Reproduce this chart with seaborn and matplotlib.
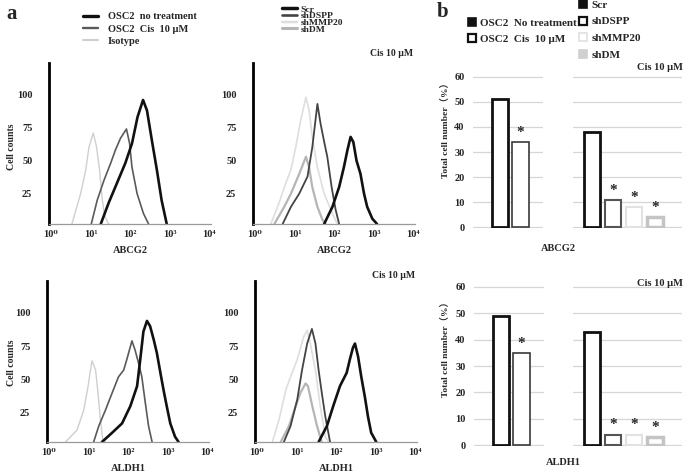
import numpy as np
import matplotlib
matplotlib.use('Agg')
import matplotlib.pyplot as plt
from matplotlib.lines import Line2D
import pandas as pd
import seaborn as sns

# ---- panel a: flow histograms (x = log10 fluorescence, y = cell counts) ----
abcg2_osc2_log = [1.26, 1.46, 1.67, 1.88, 2.05, 2.19, 2.33, 2.43, 2.55, 2.68, 2.80, 2.93]
abcg2_osc2_cnt = [2, 18, 33, 48, 63, 83, 96, 88, 66, 43, 20, 2]
abcg2_cis_log = [1.02, 1.17, 1.34, 1.51, 1.63, 1.76, 1.91, 1.99, 2.05, 2.18, 2.34, 2.47]
abcg2_cis_cnt = [2, 20, 35, 48, 58, 67, 74, 63, 45, 25, 10, 2]
abcg2_iso_log = [0.53, 0.75, 0.88, 0.96, 1.07, 1.15, 1.23, 1.30, 1.36, 1.46]
abcg2_iso_cnt = [2, 25, 43, 60, 71, 61, 43, 20, 8, 2]

abcg2_scr_log = [1.75, 1.96, 2.13, 2.25, 2.34, 2.42, 2.49, 2.57, 2.67, 2.76, 2.84, 2.97, 3.09]
abcg2_scr_cnt = [2, 15, 30, 45, 58, 68, 64, 50, 40, 25, 15, 6, 2]
abcg2_dspp_log = [0.70, 0.91, 1.12, 1.33, 1.45, 1.58, 1.66, 1.76, 1.83, 1.94, 2.04, 2.13]
abcg2_dspp_cnt = [2, 15, 25, 38, 60, 93, 78, 63, 53, 30, 13, 2]
abcg2_mmp_log = [0.40, 0.61, 0.78, 0.91, 1.03, 1.16, 1.29, 1.37, 1.45, 1.58, 1.75, 1.92, 2.08]
abcg2_mmp_cnt = [2, 18, 33, 43, 60, 81, 98, 88, 68, 45, 25, 13, 2]
abcg2_dm_log = [0.49, 0.74, 0.91, 1.12, 1.29, 1.37, 1.45, 1.58, 1.71, 1.79]
abcg2_dm_cnt = [2, 15, 25, 40, 53, 45, 30, 15, 5, 2]

aldh1_osc2_log = [1.34, 1.60, 1.85, 2.06, 2.23, 2.31, 2.39, 2.48, 2.56, 2.65, 2.73, 2.82, 2.90, 2.98, 3.07, 3.19, 3.28]
aldh1_osc2_cnt = [3, 10, 17, 30, 45, 65, 86, 94, 90, 80, 70, 55, 42, 30, 17, 7, 3]
aldh1_cis_log = [1.13, 1.26, 1.43, 1.60, 1.76, 1.89, 1.97, 2.10, 2.18, 2.27, 2.35, 2.44, 2.52, 2.61]
aldh1_cis_cnt = [3, 15, 27, 40, 52, 57, 65, 79, 72, 62, 52, 32, 15, 3]
aldh1_iso_log = [0.42, 0.71, 0.88, 0.99, 1.05, 1.09, 1.18, 1.24, 1.30, 1.36, 1.43]
aldh1_iso_cnt = [3, 12, 27, 45, 57, 64, 57, 40, 20, 5, 3]

aldh1_scr_log = [1.56, 1.77, 1.93, 2.10, 2.27, 2.35, 2.43, 2.48, 2.56, 2.64, 2.73, 2.81, 2.89, 3.02]
aldh1_scr_cnt = [3, 15, 30, 45, 55, 65, 74, 77, 67, 52, 37, 22, 10, 3]
aldh1_dspp_log = [0.68, 0.85, 1.02, 1.14, 1.27, 1.39, 1.48, 1.56, 1.64, 1.73, 1.85]
aldh1_dspp_cnt = [3, 15, 35, 57, 77, 88, 77, 57, 40, 22, 3]
aldh1_mmp_log = [0.39, 0.56, 0.73, 0.85, 1.02, 1.18, 1.27, 1.35, 1.48, 1.60, 1.73, 1.81]
aldh1_mmp_cnt = [3, 20, 42, 52, 65, 82, 87, 77, 57, 30, 7, 3]
aldh1_dm_log = [0.60, 0.81, 0.98, 1.10, 1.23, 1.29, 1.40, 1.52, 1.64]
aldh1_dm_cnt = [3, 15, 30, 40, 47, 45, 30, 15, 3]

hist_xticks = [1, 10, 100, 1000, 10000]
hist_xlabels = ['10⁰', '10¹', '10²', '10³', '10⁴']
hist_yticks = [25, 50, 75, 100]

# ---- panel b: bar charts (%) ----
osc2_groups = ['OSC2  No treatment', 'OSC2  Cis  10 μM']
sh_groups = ['Scr', 'shDSPP', 'shMMP20', 'shDM']
abcg2_osc2_pct = [51, 34]
abcg2_sh_pct = [38, 11, 8, 4]
aldh1_osc2_pct = [49, 35]
aldh1_sh_pct = [43, 4, 4, 3]
bar_yticks = [0, 10, 20, 30, 40, 50, 60]

sns.set_style('white')
plt.rcParams['font.family'] = ['Liberation Serif', 'DejaVu Serif']
plt.rcParams['font.weight'] = 'bold'

fig = plt.figure(figsize=(6.85, 4.73), dpi=100)
W, H = 685, 473


def box(x0, y_top, x1, y_bot):
    return [x0 / W, 1 - y_bot / H, (x1 - x0) / W, (y_bot - y_top) / H]


a_cols = {'osc2': ('#111111', 1.9), 'cis': ('#5a5a5a', 1.2), 'iso': ('#cfcfcf', 1.0)}
s_cols = {'scr': ('#111111', 1.9), 'dspp': ('#444444', 1.3), 'mmp': ('#dedede', 1.2), 'dm': ('#b5b5b5', 1.6)}


def hist_panel(rect, curves, styles, xlabel, ymin):
    ax = fig.add_axes(rect)
    for key, (lx, cnt) in curves.items():
        c, lw = styles[key]
        sns.lineplot(x=10 ** np.array(lx), y=cnt, ax=ax, color=c, linewidth=lw)
    ax.set_xscale('log')
    ax.set_xlim(10 ** -0.05, 10 ** 4.05)
    ax.set_ylim(ymin, 124)
    ax.set_xticks(hist_xticks)
    ax.set_xticklabels(hist_xlabels)
    ax.minorticks_off()
    ax.set_yticks(hist_yticks)
    ax.tick_params(axis='y', length=0, pad=12, labelsize=7.5)
    ax.tick_params(axis='x', length=3, width=0.8, color='#888888', pad=3, labelsize=7.5, direction='inout')
    for s in ['top', 'right']:
        ax.spines[s].set_visible(False)
    ax.spines['left'].set_linewidth(2)
    ax.spines['left'].set_color('black')
    ax.spines['bottom'].set_linewidth(0.9)
    ax.spines['bottom'].set_color('#999999')
    ax.set_xlabel(xlabel, fontsize=7.5, fontweight='bold', labelpad=5)
    ax.set_ylabel('')
    return ax


hist_panel(box(49, 63, 211, 224),
           {'iso': (abcg2_iso_log, abcg2_iso_cnt), 'cis': (abcg2_cis_log, abcg2_cis_cnt),
            'osc2': (abcg2_osc2_log, abcg2_osc2_cnt)}, a_cols, 'ABCG2', 2)
hist_panel(box(253, 63, 415, 224),
           {'mmp': (abcg2_mmp_log, abcg2_mmp_cnt), 'dm': (abcg2_dm_log, abcg2_dm_cnt),
            'dspp': (abcg2_dspp_log, abcg2_dspp_cnt), 'scr': (abcg2_scr_log, abcg2_scr_cnt)},
           s_cols, 'ABCG2', 2)
hist_panel(box(47, 281, 209, 442),
           {'iso': (aldh1_iso_log, aldh1_iso_cnt), 'cis': (aldh1_cis_log, aldh1_cis_cnt),
            'osc2': (aldh1_osc2_log, aldh1_osc2_cnt)}, a_cols, 'ALDH1', 3)
hist_panel(box(255, 281, 417, 442),
           {'mmp': (aldh1_mmp_log, aldh1_mmp_cnt), 'dm': (aldh1_dm_log, aldh1_dm_cnt),
            'dspp': (aldh1_dspp_log, aldh1_dspp_cnt), 'scr': (aldh1_scr_log, aldh1_scr_cnt)},
           s_cols, 'ALDH1', 3)

fig.text(12 / W, 1 - 147 / H, 'Cell counts', rotation=90, ha='center', va='center', fontsize=7, fontweight='bold')
fig.text(12 / W, 1 - 363 / H, 'Cell counts', rotation=90, ha='center', va='center', fontsize=7, fontweight='bold')
fig.text(413 / W, 1 - 53 / H, 'Cis 10 μM', ha='right', va='center', fontsize=7, fontweight='bold')
fig.text(415 / W, 1 - 275 / H, 'Cis 10 μM', ha='right', va='center', fontsize=7, fontweight='bold')
fig.text(12 / W, 1 - 14 / H, 'a', ha='center', va='center', fontsize=15, fontweight='bold')
fig.text(443 / W, 1 - 12 / H, 'b', ha='center', va='center', fontsize=15, fontweight='bold')

# legends for panel a
h_a = [Line2D([], [], color=a_cols[k][0], lw=a_cols[k][1] + 0.5) for k in ['osc2', 'cis', 'iso']]
fig.legend(h_a, ['OSC2  no treatment', 'OSC2  Cis  10 μM', 'Isotype'], loc='upper left',
           bbox_to_anchor=(83 / W, 1 - 12 / H), frameon=False, borderpad=0,
           borderaxespad=0, handlelength=1.4, handletextpad=1.0, labelspacing=0.3,
           prop={'weight': 'bold', 'size': 7.5})
h_s = [Line2D([], [], color=s_cols[k][0], lw=s_cols[k][1] + 0.6) for k in ['scr', 'dspp', 'mmp', 'dm']]
fig.legend(h_s, sh_groups, loc='upper left', bbox_to_anchor=(282 / W, 1 - 5 / H), frameon=False,
           borderpad=0, borderaxespad=0, handlelength=1.6, handletextpad=0.4, labelspacing=-0.2,
           prop={'weight': 'bold', 'size': 6.8})

# ---- bar panels ----
osc2_edges = [('#111111', 2.0), ('#3a3a3a', 1.2)]
sh_edges = [('#111111', 2.0), ('#555555', 1.5), ('#e2e2e2', 1.5), ('#c4c4c4', 2.5)]


def bar_panel(rect, groups, vals, edges, xlim, ticklabels, stars):
    ax = fig.add_axes(rect)
    df = pd.DataFrame({'group': groups, 'pct': vals})
    sns.barplot(data=df, x='group', y='pct', color='white', width=0.8, ax=ax, zorder=3)
    for p, (c, lw) in zip(ax.patches, edges):
        p.set_edgecolor(c)
        p.set_linewidth(lw)
        p.set_facecolor('white')
    ax.set_xlim(*xlim)
    ax.set_ylim(-0.3, 60.3)
    ax.set_yticks(bar_yticks)
    ax.yaxis.grid(True, color='#d6d6d6', linewidth=0.9)
    ax.set_axisbelow(True)
    ax.set_xticks([])
    ax.set_xlabel('')
    ax.set_ylabel('')
    for s in ax.spines.values():
        s.set_visible(False)
    if ticklabels:
        ax.tick_params(axis='y', length=0, pad=6, labelsize=7.5)
    else:
        ax.set_yticklabels([])
        ax.tick_params(axis='y', length=0)
    for i, v in enumerate(vals):
        if stars[i]:
            ax.text(i, v + 1.2, '*', ha='center', va='bottom', fontsize=11, fontweight='bold')
    return ax


bar_panel(box(473, 76, 543, 228), osc2_groups, abcg2_osc2_pct, osc2_edges, (-1.32, 2.1), True, [0, 1])
bar_panel(box(573, 76, 682, 228), sh_groups, abcg2_sh_pct, sh_edges, (-0.9, 4.29), False, [0, 1, 1, 1])
bar_panel(box(474, 286, 544, 446), osc2_groups, aldh1_osc2_pct, osc2_edges, (-1.32, 2.1), True, [0, 1])
bar_panel(box(573, 286, 682, 446), sh_groups, aldh1_sh_pct, sh_edges, (-0.9, 4.29), False, [0, 1, 1, 1])

ylab_font = ['Liberation Serif', 'Noto Sans CJK JP']
fig.text(446 / W, 1 - 128 / H, 'Total cell number（%）', rotation=90, ha='center', va='center',
         fontsize=6.8, fontweight='bold', family=ylab_font)
fig.text(446 / W, 1 - 347 / H, 'Total cell number（%）', rotation=90, ha='center', va='center',
         fontsize=6.8, fontweight='bold', family=ylab_font)
fig.text(558 / W, 1 - 248 / H, 'ABCG2', ha='center', va='center', fontsize=7.5, fontweight='bold')
fig.text(563 / W, 1 - 462 / H, 'ALDH1', ha='center', va='center', fontsize=7.5, fontweight='bold')
fig.text(683 / W, 1 - 68 / H, 'Cis 10 μM', ha='right', va='center', fontsize=7.5, fontweight='bold')
fig.text(683 / W, 1 - 283 / H, 'Cis 10 μM', ha='right', va='center', fontsize=7.5, fontweight='bold')

# legends for panel b
def sq(face, edge, mew):
    return Line2D([], [], linestyle='none', marker='s', markersize=5.5, markerfacecolor=face,
                  markeredgecolor=edge, markeredgewidth=mew)


h_b1 = [sq('#111111', '#111111', 1.2), sq('white', '#111111', 1.6)]
fig.legend(h_b1, osc2_groups, loc='upper left', bbox_to_anchor=(468 / W, 1 - 18 / H), frameon=False,
           borderpad=0, borderaxespad=0, handlelength=0.8, handletextpad=0.3, labelspacing=0.55,
           prop={'weight': 'bold', 'size': 8})
h_b2 = [sq('#111111', '#111111', 1.2), sq('white', '#111111', 1.6), sq('white', '#e0e0e0', 1.2),
        sq('#d0d0d0', '#d0d0d0', 1.2)]
fig.legend(h_b2, sh_groups, loc='upper left', bbox_to_anchor=(579 / W, 1 - 0 / H), frameon=False,
           borderpad=0, borderaxespad=0, handlelength=0.8, handletextpad=0.3, labelspacing=0.62,
           prop={'weight': 'bold', 'size': 8})

fig.savefig('out.png', dpi=100)
